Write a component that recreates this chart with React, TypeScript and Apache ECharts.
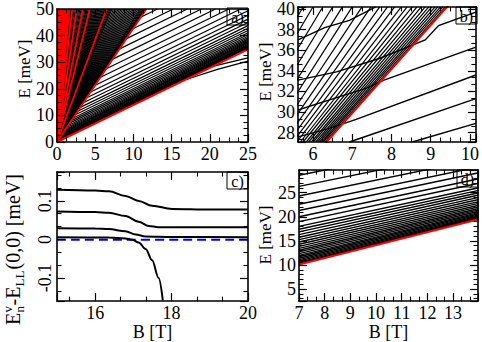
import React, { useEffect, useRef } from 'react';
import * as echarts from 'echarts';

const FONT = 'Liberation Serif, Times New Roman, serif';

// ---------------- Panel a (B 0..25 T, E 0..50 meV) ----------------
// red n=0 lines from the origin, given by the B where they reach E = 50
const aRedTopB = [0.14, 0.26, 0.38, 0.5, 0.62, 0.74, 0.86, 0.98, 1.1, 1.22, 1.34, 1.48, 1.62, 2.0, 2.6, 3.4, 4.3, 6.5, 11.7];
const aRedLow = [[0, 0], [25, 34.8]];
// black fan lines from the origin, B where they reach E = 50
const aFanTopB = [1.42, 1.55, 1.68, 1.82, 1.95, 2.1, 2.25, 2.4, 2.55, 2.7, 2.85, 3.0, 3.15, 3.3, 3.5, 3.65, 3.8,
  3.95, 4.1, 4.25, 4.45, 4.6, 4.75, 4.9, 5.05, 5.2, 5.35, 5.5, 5.65, 5.8, 5.95, 6.1, 6.25, 6.4, 6.6, 6.75, 6.9,
  7.05, 7.2, 7.4, 7.6, 7.8, 8.0, 8.2, 8.4, 8.6, 8.8, 9.0, 9.2, 9.4, 9.6, 9.8, 10.0, 10.2, 10.4, 10.6, 10.8, 10.95,
  11.1, 11.25, 11.38, 11.5, 11.6];
// lower fan: start point on the red line, end point on the frame
const aFan3Start = [[11.0, 46.97], [10.0, 42.7], [9.1, 38.86], [8.2, 35.01], [7.3, 31.17], [6.45, 27.54], [5.7, 24.34],
  [5.0, 21.35], [4.4, 18.79], [3.9, 16.65], [3.45, 14.73], [3.05, 13.02], [2.7, 11.53], [2.4, 10.25], [2.12, 9.05],
  [1.88, 8.03], [1.66, 7.09], [1.46, 6.23], [1.28, 5.47], [1.12, 4.78], [0.98, 4.18], [0.85, 3.63], [0.73, 3.12],
  [0.62, 2.65], [0.52, 2.22], [0.43, 1.84], [0.35, 1.49], [0.28, 1.2], [0.22, 0.94], [0.16, 0.68], [0.11, 0.47]];
const aFan3End = [[13.16, 50], [15.21, 50], [17.05, 50], [18.9, 50], [20.75, 50], [22.49, 50], [24.03, 50],
  [25, 49.35], [25, 47.63], [25, 46.19], [25, 44.9], [25, 43.75], [25, 42.75], [25, 41.89], [25, 41.08],
  [25, 40.4], [25, 39.76], [25, 39.19], [25, 38.67], [25, 38.21], [25, 37.81], [25, 37.44], [25, 37.1],
  [25, 36.78], [25, 36.49], [25, 36.23], [25, 36.0], [25, 35.8], [25, 35.63], [25, 35.46], [25, 35.32]];
const aBelow = [[[17.0, 23.6], [21.0, 27.3], [25, 30.4]], [[20.5, 28.5], [25, 31.6]]];

// ---------------- Panel b (zoom) ----------------
const bRed = [[6.0, 25.62], [9.7, 41.42]];
// steep lines left of the red line: B at the bottom (E = 27.1) and at the top (E = 40.2)
const bSteepBottomB = [6.31, 6.26, 6.22, 6.17, 6.12, 6.07, 6.01, 5.96, 5.89, 5.83, 5.75, 5.68, 5.59, 5.49, 5.38,
  5.26, 5.12, 4.97, 4.8, 4.6, 4.4, 4.19, 3.97, 3.73];
const bSteepTopB = [9.37, 9.31, 9.25, 9.18, 9.11, 9.03, 8.95, 8.86, 8.76, 8.65, 8.53, 8.4, 8.25, 8.08, 7.9,
  7.7, 7.48, 7.25, 7.0, 6.75, 6.5, 6.25, 6.0, 5.75];
const bShallow = [
  [[5.62, 37.0], [6.3, 38.2], [6.93, 38.9], [7.6, 40.2]],
  [[5.62, 33.1], [6.6, 33.9], [7.69, 35.2], [8.86, 37.0], [9.2, 38.4], [10.15, 39.7]],
  [[5.62, 30.2], [6.68, 31.5], [7.35, 32.3], [7.81, 33.1], [10.15, 36.3]],
  [[5.62, 27.6], [6.4, 28.4], [7.1, 29.3], [10.15, 33.6]],
  [[6.93, 27.1], [10.15, 31.3]],
  [[8.53, 27.1], [10.15, 28.9]],
];

// ---------------- Panel c ----------------
const cCurve1 = [[15, 0.129], [16.0, 0.127], [16.36, 0.125], [16.79, 0.1126], [17.14, 0.1], [17.49, 0.0876], [18.01, 0.0793], [19, 0.0778], [20, 0.0776]];
const cCurve2 = [[15, 0.0725], [16.0, 0.071], [16.36, 0.0693], [16.79, 0.061], [17.14, 0.046], [17.4, 0.035], [17.66, 0.0318], [19, 0.0318], [20, 0.0318]];
const cCurve3 = [[15, 0.029], [16.0, 0.0282], [16.36, 0.0268], [16.79, 0.021], [17.06, 0.0126], [17.32, 0.0076], [18, 0.0062], [20, 0.006]];
const cCurve4 = [[15, 0.006], [16.36, 0.0051], [16.79, 0.0026], [16.97, -0.0007], [17.14, -0.008], [17.32, -0.025], [17.49, -0.054], [17.66, -0.1], [17.77, -0.158]];
const cZero = [[15, -0.001], [20, -0.001]];

// ---------------- Panel d ----------------
const dRed = [[7, 10.1], [14, 19.5]];
const dLeftE = [10.35, 10.6, 10.85, 11.1, 11.4, 11.7, 12.0, 12.35, 12.7, 13.05, 13.45, 13.85, 14.3, 14.75, 15.25,
  15.75, 16.3, 16.85, 17.4, 18.0, 19.0, 20.0, 21.3, 22.6, 24.3, 26.3, 28.6];
const dRightE = [19.59, 19.78, 19.96, 20.15, 20.38, 20.62, 20.85, 21.14, 21.42, 21.71, 22.04, 22.38, 22.77, 23.15,
  23.59, 24.02, 24.51, 24.99, 25.48, 26.01, 26.95, 27.88, 29.12, 30.35, 31.99, 33.93, 36.16];

type AxSpec = { min: number; max: number; step: number; minor: number; name?: string; nameGap?: number; hideMin?: boolean; hideMax?: boolean; rotate?: number };

function mkAxes(kind: 'x' | 'y', g: number, s: AxSpec) {
  const base: any = {
    type: 'value', gridIndex: g, min: s.min, max: s.max, minInterval: s.step, maxInterval: s.step, z: 10,
    axisLine: { show: true, onZero: false, lineStyle: { color: '#000', width: 1.6 } },
    axisTick: { show: true, inside: true, length: 8, lineStyle: { color: '#000', width: 1.2 } },
    minorTick: { show: true, splitNumber: s.minor, length: 4.5, lineStyle: { color: '#000', width: 1.1 } },
    splitLine: { show: false }, minorSplitLine: { show: false },
  };
  const main = {
    ...base, position: kind === 'x' ? 'bottom' : 'left',
    axisLabel: { show: true, color: '#000', fontFamily: FONT, fontSize: 18, margin: 3, showMinLabel: !s.hideMin, showMaxLabel: !s.hideMax, rotate: s.rotate ?? 0 },
    name: s.name ?? '', nameLocation: 'middle', nameGap: s.nameGap ?? 20,
    nameTextStyle: { color: '#000', fontFamily: FONT, fontSize: 18 },
  };
  const mirror = { ...base, position: kind === 'x' ? 'top' : 'right', axisLabel: { show: false }, name: '' };
  return [main, mirror];
}

function lines(g: number, coords: number[][][], color: string, width: number) {
  return {
    type: 'lines', coordinateSystem: 'cartesian2d', xAxisIndex: 2 * g, yAxisIndex: 2 * g, polyline: true, clip: true,
    silent: true, data: coords.map((c) => ({ coords: c })), lineStyle: { color, width, opacity: 1 },
  };
}

function curve(g: number, data: number[][], color: string, width: number, dashed = false) {
  return {
    type: 'line', xAxisIndex: 2 * g, yAxisIndex: 2 * g, data, showSymbol: false, smooth: 0.35, smoothMonotone: 'x',
    clip: true, silent: true, lineStyle: { color, width, type: dashed ? [9, 5] : 'solid' },
  };
}

function buildOption(): any {
  const grids = [
    { left: 57, top: 6, width: 191, height: 136 },
    { left: 298, top: 6, width: 180, height: 136 },
    { left: 57, top: 172, width: 191, height: 133 },
    { left: 299, top: 170, width: 179, height: 135 },
  ];
  const xAxis = [
    ...mkAxes('x', 0, { min: 0, max: 25, step: 5, minor: 4 }),
    ...mkAxes('x', 1, { min: 5.62, max: 10.15, step: 1, minor: 4, hideMin: true, hideMax: true }),
    ...mkAxes('x', 2, { min: 15, max: 20, step: 2, minor: 3, hideMin: true, name: 'B [T]', nameGap: 16 }),
    ...mkAxes('x', 3, { min: 7, max: 13.97, step: 1, minor: 3, hideMax: true, name: 'B [T]', nameGap: 16 }),
  ];
  const yAxis = [
    ...mkAxes('y', 0, { min: 0, max: 50, step: 10, minor: 4 }),
    ...mkAxes('y', 1, { min: 27.1, max: 40.2, step: 2, minor: 3, hideMin: true, hideMax: true }),
    ...mkAxes('y', 2, { min: -0.16, max: 0.175, step: 0.1, minor: 3, hideMin: true, hideMax: true, rotate: 90 }),
    ...mkAxes('y', 3, { min: 2.5, max: 29.7, step: 5, minor: 5, hideMin: true, hideMax: true }),
  ];

  const series: any[] = [
    // panel a
    lines(0, aFanTopB.map((b) => [[0, 0], [b, 50]]), '#000', 1.2),
    lines(0, aFan3Start.map((p, i) => [p, aFan3End[i]]), '#000', 1.2),
    lines(0, aBelow, '#000', 1.2),
    lines(0, aRedTopB.map((b) => [[0, 0], [b, 50]]), '#ff0000', 1.8),
    lines(0, [aRedLow], '#ff0000', 2),
    // panel b
    lines(1, bSteepTopB.map((t, i) => [[bSteepBottomB[i], 27.1], [t, 40.2]]), '#000', 1.2),
    lines(1, bShallow, '#000', 1.4),
    lines(1, [bRed], '#ff0000', 2),
    // panel c
    curve(2, cZero, '#0000ff', 2, true),
    curve(2, cCurve1, '#000', 2),
    curve(2, cCurve2, '#000', 2),
    curve(2, cCurve3, '#000', 2),
    curve(2, cCurve4, '#000', 2),
    // panel d
    lines(3, dLeftE.map((l, i) => [[7, l], [14, dRightE[i]]]), '#000', 1.4),
    lines(3, [dRed], '#ff0000', 2),
  ];

  const tags: [string, number, number][] = [['a)', 227, 8], ['b)', 456, 7], ['c)', 227, 172], ['d)', 457, 170]];
  const graphic: any[] = tags.map(([t, x, y]) => ({
    type: 'group', x, y, z: 100,
    children: [
      { type: 'rect', shape: { x: 0, y: 0, width: 21, height: 17 }, style: { fill: '#fff', stroke: '#000', lineWidth: 1 } },
      { type: 'text', x: 10.5, y: 9, style: { text: t, fontSize: 16, fontFamily: FONT, fill: '#000', align: 'center', verticalAlign: 'middle' } },
    ],
  }));
  // vertical "E [meV]" axis titles
  const eTitles: [number, number][] = [[24.5, 69], [265, 72], [265, 235]];
  eTitles.forEach(([x, y]) => graphic.push({
    type: 'text', x, y, rotation: Math.PI / 2, z: 100,
    style: { text: 'E [meV]', fontSize: 17, fontFamily: FONT, fill: '#000', align: 'center', verticalAlign: 'middle' },
  }));
  const ts = (text: string, x: number, y: number, size: number) => ({
    type: 'text', x, y, style: { text, fontSize: size, fontFamily: FONT, fill: '#000', align: 'left', verticalAlign: 'bottom' },
  });
  graphic.push({
    type: 'group', x: 19, y: 325, rotation: Math.PI / 2, z: 100,
    children: [
      ts('E', 0, 4, 20),
      ts('v', 12.5, -5.4, 13),
      ts('n', 12.5, 6.6, 13),
      ts('-E', 19.5, 4, 20),
      ts('LL', 38.6, 6.6, 13),
      ts('(0,0) [meV]', 55.5, 4, 20),
    ],
  });

  return { animation: false, backgroundColor: '#fff', grid: grids, xAxis, yAxis, series, graphic };
}

export default function App() {
  const ref = useRef<HTMLDivElement>(null);
  useEffect(() => {
    const chart = echarts.init(ref.current!, null, { renderer: 'svg' });
    chart.setOption(buildOption());
    return () => chart.dispose();
  }, []);
  return <div ref={ref} style={{ position: 'fixed', left: 0, top: 0, width: 482, height: 342, background: '#fff' }} />;
}
